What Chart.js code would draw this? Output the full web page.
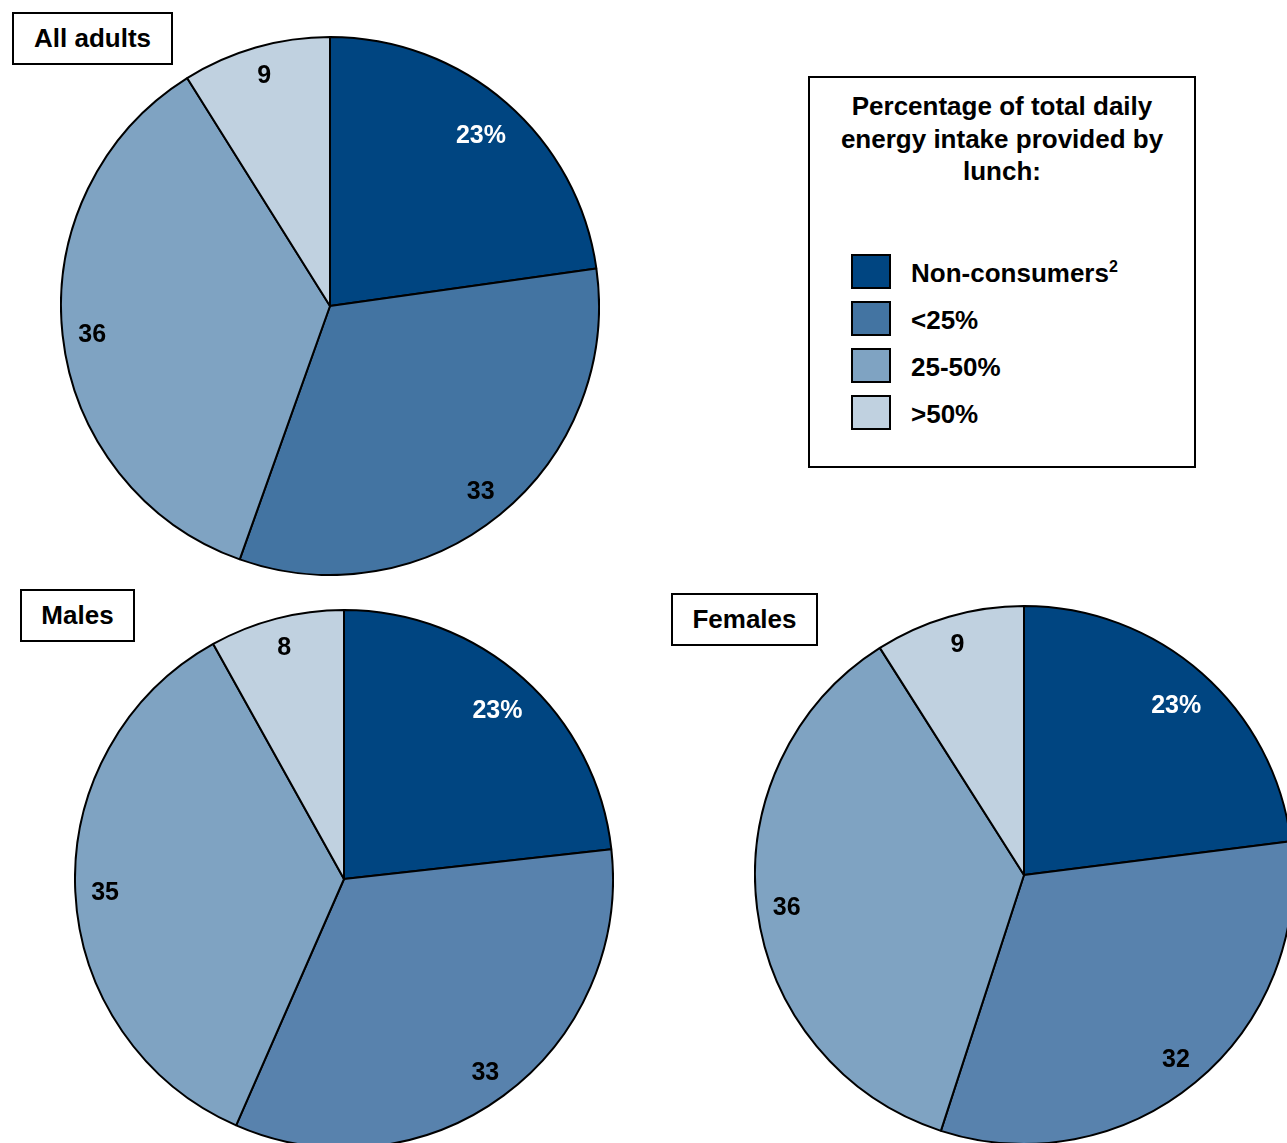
<!DOCTYPE html>
<html>
<head>
<meta charset="utf-8">
<script src="https://cdn.jsdelivr.net/npm/chart.js@4.4.0/dist/chart.umd.min.js"></script>
<style>
  html, body { margin: 0; padding: 0; background: #fff; overflow: hidden; }
  body { width: 1287px; height: 1143px; position: relative; font-family: "Liberation Sans", Arial, sans-serif; }
  .pie { position: absolute; width: 540px; height: 540px; }
  .tag { position: absolute; border: 2px solid #000; background: #fff; font-weight: bold; font-size: 26px;
         display: flex; align-items: center; justify-content: center; box-sizing: border-box; }
  #legend { position: absolute; left: 808px; top: 76px; width: 388px; height: 392px; border: 2px solid #000;
            box-sizing: border-box; font-weight: bold; font-size: 26px; }
  #legend .ttl { text-align: center; line-height: 32.5px; margin-top: 12px; }
  #legend .row { position: absolute; left: 41px; height: 34px; display: flex; align-items: center; }
  #legend .row span { position: relative; top: 2px; }
  #legend .sw { width: 36px; height: 31px; border: 2px solid #000; margin-right: 20px; }
</style>
</head>
<body>
<div class="pie" style="left:60px;top:36px"><canvas id="pAll"></canvas></div>
<div class="pie" style="left:74px;top:609px"><canvas id="pMale"></canvas></div>
<div class="pie" style="left:754px;top:605px"><canvas id="pFemale"></canvas></div>

<div class="tag" style="left:12px;top:12px;width:161px;height:53px">All adults</div>
<div class="tag" style="left:20px;top:589px;width:115px;height:53px">Males</div>
<div class="tag" style="left:671px;top:593px;width:147px;height:53px">Females</div>

<div id="legend"><div class="ttl">Percentage of total daily<br>energy intake provided by<br>lunch:</div></div>

<script>
const categories = ["Non-consumers", "<25%", "25-50%", ">50%"];
const allAdults = [23, 33, 36, 9];
const males = [23, 33, 35, 8];
const females = [23, 32, 36, 9];
const allColors = ["#004581", "#4374a2", "#7fa3c2", "#c0d1e0"];
const sexColors = ["#004581", "#5882ad", "#7fa3c2", "#c0d1e0"];
// how far out (share of radius) each slice label sits
const labelRadius = [0.85, 0.88, 0.893, 0.9];

// legend
const legend = document.getElementById("legend");
categories.forEach((c, i) => {
  const row = document.createElement("div");
  row.className = "row";
  row.style.top = (176 + i * 47) + "px";
  const sw = document.createElement("div");
  sw.className = "sw";
  sw.style.background = allColors[i];
  const t = document.createElement("span");
  t.innerHTML = i === 0 ? c + "<sup style='font-size:16px;vertical-align:10px'>2</sup>" : c;
  row.appendChild(sw);
  row.appendChild(t);
  legend.appendChild(row);
});

const sliceLabels = {
  id: "sliceLabels",
  afterDatasetsDraw(chart) {
    const { ctx } = chart;
    const meta = chart.getDatasetMeta(0);
    const data = chart.data.datasets[0].data;
    ctx.save();
    ctx.font = "bold 25px 'Liberation Sans', Arial, sans-serif";
    ctx.textAlign = "center";
    ctx.textBaseline = "middle";
    meta.data.forEach((arc, i) => {
      const mid = (arc.startAngle + arc.endAngle) / 2;
      const r = arc.outerRadius * labelRadius[i];
      ctx.fillStyle = i === 0 ? "#fff" : "#000";
      ctx.fillText(i === 0 ? data[i] + "%" : String(data[i]),
        arc.x + Math.cos(mid) * r + 1, arc.y + Math.sin(mid) * r + 3);
    });
    ctx.restore();
  }
};

function makePie(id, values, colors) {
  new Chart(document.getElementById(id), {
    type: "pie",
    data: {
      labels: categories,
      datasets: [{ data: values, backgroundColor: colors, borderColor: "#000", borderWidth: 2 }]
    },
    options: {
      responsive: true,
      maintainAspectRatio: false,
      animation: false,
      layout: { padding: 0 },
      plugins: { legend: { display: false }, tooltip: { enabled: false } }
    },
    plugins: [sliceLabels]
  });
}

makePie("pAll", allAdults, allColors);
makePie("pMale", males, sexColors);
makePie("pFemale", females, sexColors);
</script>
</body>
</html>
